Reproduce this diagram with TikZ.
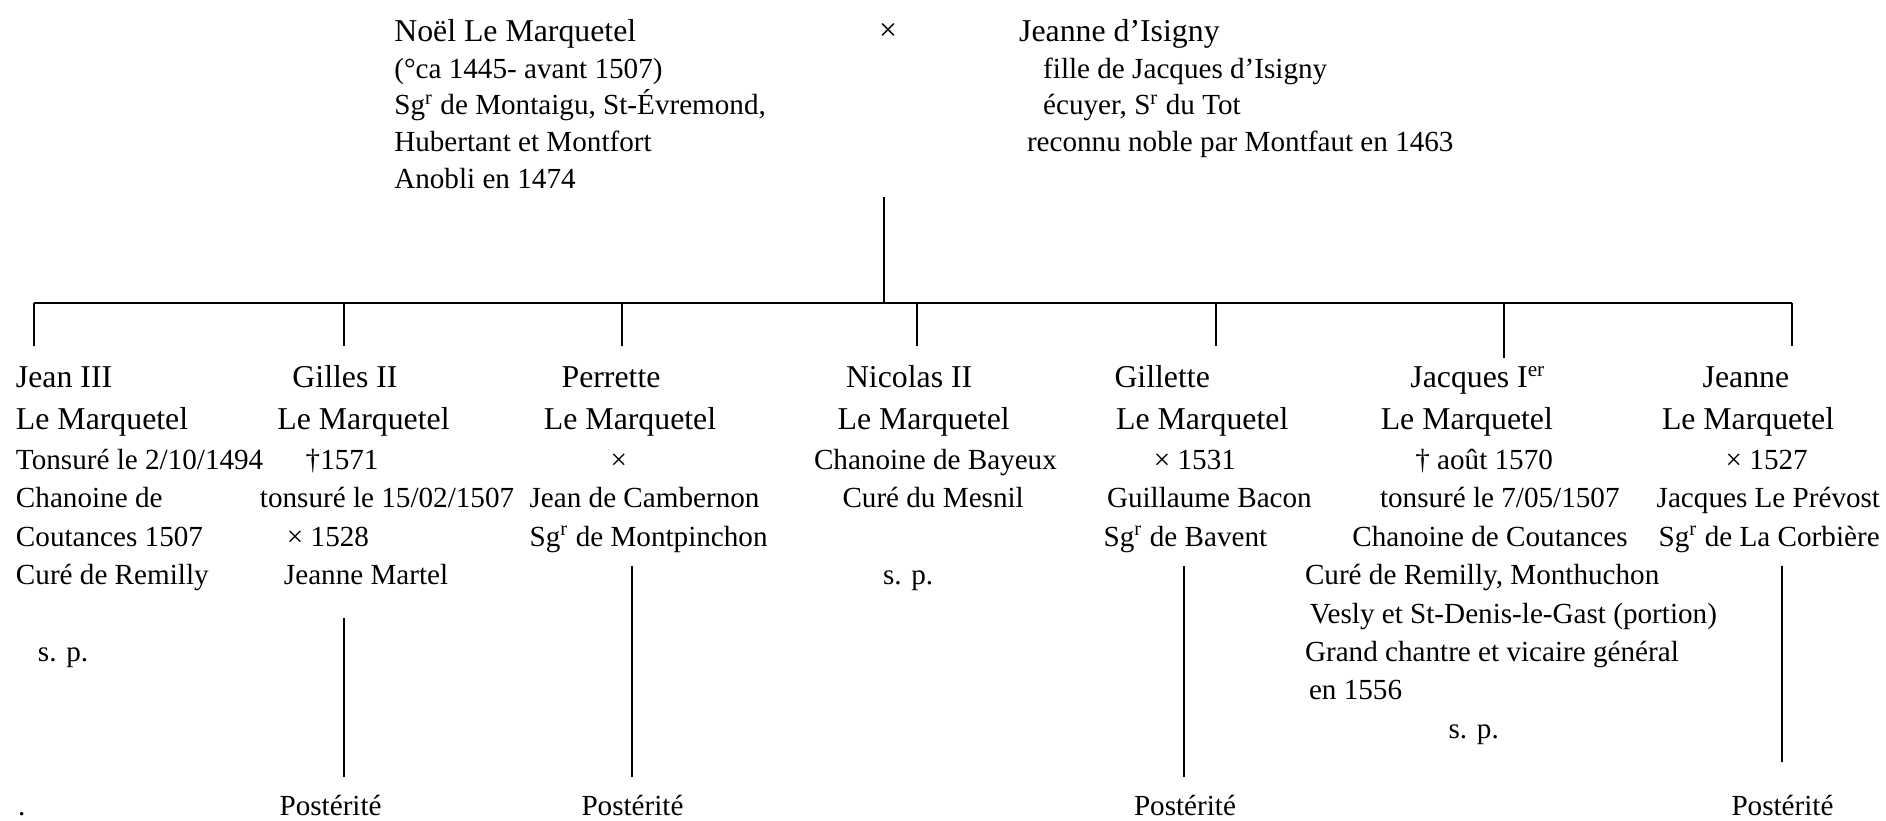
\documentclass[tikz,border=0pt]{standalone}
\usepackage{fontspec}
\setmainfont{Liberation Serif}

\newlength\pxu
\setlength\pxu{0.3774pt}
\newcommand\indpx[1]{\hspace*{#1\pxu}}
\newcommand\namefont{\fontsize{12}{14.5}\selectfont}
\newcommand\topline{\rule{0pt}{13pt}}

\begin{document}
\begin{tikzpicture}[
    x=0.3774pt,
    y=-0.3774pt,
    line width=0.75pt,
    every node/.style={inner sep=0pt},
    person/.style={anchor=north west, yshift=13pt, align=left, font=\fontsize{11}{14.5}\selectfont},
    parent/.style={anchor=north west, yshift=13pt, align=left, font=\fontsize{11}{13.85}\selectfont},
    post/.style={anchor=base, font=\fontsize{11}{13}\selectfont},
]
    \useasboundingbox (0,0) rectangle (1886,820);

    % the couple
    \node[parent]              (noel)    at (393.3,40.5)  {\topline{\namefont Noël Le Marquetel}\\
        (°ca 1445- avant 1507)\\
        Sg\textsuperscript{r} de Montaigu, St-Évremond,\\
        Hubertant et Montfort\\
        Anobli en 1474};
    \node[anchor=base, font=\namefont] (wed) at (888,40.5) {×};
    \node[parent]              (isigny)  at (1018.2,40.5) {\topline{\namefont Jeanne d’Isigny}\\
        \indpx{24}fille de Jacques d’Isigny\\
        \indpx{24}écuyer, S\textsuperscript{r} du Tot\\
        \indpx{7.8}reconnu noble par Montfaut en 1463};

    % the children
    \node[person] (jean)     at (15,386.7)     {\topline{\namefont Jean III}\\[1.2pt]
        {\namefont Le Marquetel}\\[0.6pt]
        Tonsuré le 2/10/1494\\
        Chanoine de\\
        Coutances 1507\\
        Curé de Remilly\\
        \mbox{}\\
        \indpx{22}s. p.};
    \node[person] (gilles)   at (259,386.7)    {\topline\indpx{32.5}{\namefont Gilles II}\\[1.2pt]
        \indpx{17.5}{\namefont Le Marquetel}\\[0.6pt]
        \indpx{45.7}†1571\\
        tonsuré le 15/02/1507\\
        \indpx{27}× 1528\\
        \indpx{24}Jeanne Martel};
    \node[person] (perrette) at (528.6,386.7)  {\topline\indpx{32}{\namefont Perrette}\\[1.2pt]
        \indpx{14.4}{\namefont Le Marquetel}\\[0.6pt]
        \indpx{81}×\\
        Jean de Cambernon\\
        Sg\textsuperscript{r} de Montpinchon};
    \node[person] (nicolas)  at (813,386.7)    {\topline\indpx{32}{\namefont Nicolas II}\\[1.2pt]
        \indpx{23.6}{\namefont Le Marquetel}\\[0.6pt]
        Chanoine de Bayeux\\
        \indpx{28.5}Curé du Mesnil\\
        \mbox{}\\
        \indpx{69}s. p.};
    \node[person] (gillette) at (1102.7,386.7) {\topline\indpx{10.8}{\namefont Gillette}\\[1.2pt]
        \indpx{12.5}{\namefont Le Marquetel}\\[0.6pt]
        \indpx{50.2}× 1531\\
        \indpx{3.3}Guillaume Bacon\\
        Sg\textsuperscript{r} de Bavent};
    \node[person] (jacques)  at (1304,386.7)   {\topline\indpx{105.4}{\namefont Jacques I\textsuperscript{er}}\\[1.2pt]
        \indpx{75.8}{\namefont Le Marquetel}\\[0.6pt]
        \indpx{110.3}† août 1570\\
        \indpx{75}tonsuré le 7/05/1507\\
        \indpx{47.4}Chanoine de Coutances\\
        Curé de Remilly, Monthuchon\\
        \indpx{4.8}Vesly et St-Denis-le-Gast (portion)\\
        Grand chantre et vicaire général\\
        \indpx{4}en 1556\\
        \indpx{143.6}s. p.};
    \node[person] (jeanne)   at (1655.7,386.7) {\topline\indpx{46}{\namefont Jeanne}\\[1.2pt]
        \indpx{5.3}{\namefont Le Marquetel}\\[0.6pt]
        \indpx{69}× 1527\\
        Jacques Le Prévost\\
        \indpx{2}Sg\textsuperscript{r} de La Corbière};

    % the tree
    \coordinate (couple)   at (884,197);
    \coordinate (bus)      at (884,302.7);
    \coordinate (bus west) at (34.4,302.7);
    \coordinate (bus east) at (1792.4,302.7);
    \draw (couple) -- (bus);
    \draw (bus west) -- (bus east);
    \foreach \x/\y [count=\i] in {34.4/345.7, 344.2/345.7, 622/345.7, 916.6/345.7,
                                  1216/345.7, 1504.4/358.3, 1792.4/345.7}
        \draw (\x,302.7 |- bus) -- (\x,\y);

    % descendants
    \node[post] (post gilles)   at (330.6,815)  {Postérité};
    \node[post] (post perrette) at (632.5,815)  {Postérité};
    \node[post] (post gillette) at (1185,815)   {Postérité};
    \node[post] (post jeanne)   at (1782.5,815) {Postérité};
    \node[anchor=base west, font=\fontsize{11}{13}\selectfont] (dot) at (17.2,815) {.};

    \coordinate (foot gilles)   at (344.4,618);
    \coordinate (foot perrette) at (631.5,565.7);
    \coordinate (foot gillette) at (1183.6,566);
    \coordinate (foot jeanne)   at (1781.5,565.7);
    \draw[shorten >=17\pxu] (foot gilles)   -- (foot gilles |- post gilles.north);
    \draw[shorten >=17\pxu] (foot perrette) -- (foot perrette |- post perrette.north);
    \draw[shorten >=17\pxu] (foot gillette) -- (foot gillette |- post gillette.north);
    \draw[shorten >=32\pxu] (foot jeanne)   -- (foot jeanne |- post jeanne.north);
\end{tikzpicture}
\end{document}
